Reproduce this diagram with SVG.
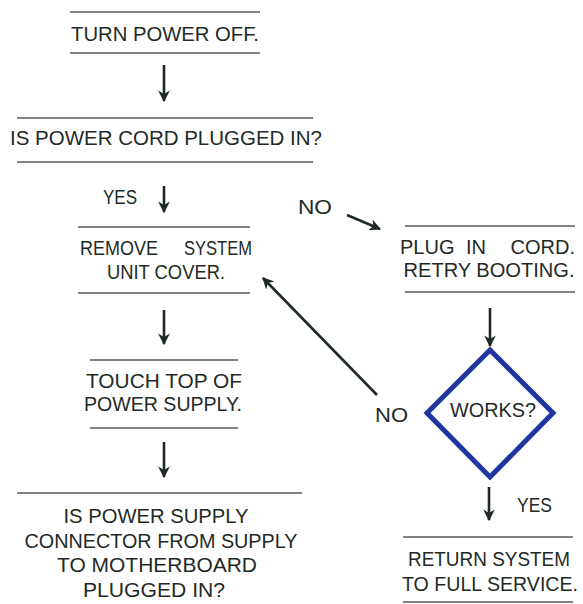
<svg xmlns="http://www.w3.org/2000/svg" width="583" height="604" viewBox="0 0 583 604">
<style>
  text { font-family: "Liberation Sans", "Lato", sans-serif; font-size: 20px; fill: #1f2a26; }
  .c { text-anchor: middle; }
  .rule { stroke: #555b58; stroke-width: 1.6; }
  .arrow { stroke: #1f2a26; stroke-width: 2.6; fill: none; marker-end: url(#ah); }
  .dia { fill: none; stroke: #1f35a0; stroke-width: 5; stroke-linejoin: miter; }
</style>
<defs>
  <marker id="ah" viewBox="0 0 10 10" refX="9" refY="5" markerWidth="4.5" markerHeight="4.5" markerUnits="strokeWidth" orient="auto">
    <path d="M0,0 L10,5 L0,10 L3,5 z" fill="#1f2a26"/>
  </marker>
</defs>
<rect width="583" height="604" fill="#ffffff"/>

<g id="n1">
  <line class="rule" x1="70" y1="12" x2="260" y2="12"/>
  <text class="c" x="165" y="41" textLength="188" lengthAdjust="spacingAndGlyphs">TURN POWER OFF.</text>
  <line class="rule" x1="70" y1="53" x2="260" y2="53"/>
</g>

<g id="n2">
  <line class="rule" x1="17" y1="118" x2="313" y2="118"/>
  <text class="c" x="166" y="145" textLength="312" lengthAdjust="spacingAndGlyphs">IS POWER CORD PLUGGED IN?</text>
  <line class="rule" x1="17" y1="162" x2="313" y2="162"/>
</g>

<g id="n3">
  <line class="rule" x1="78" y1="227" x2="250" y2="227"/>
  <text y="255"><tspan x="80" textLength="78" lengthAdjust="spacingAndGlyphs">REMOVE</tspan><tspan x="184" textLength="68" lengthAdjust="spacingAndGlyphs">SYSTEM</tspan></text>
  <text class="c" x="166" y="279" textLength="118" lengthAdjust="spacingAndGlyphs">UNIT COVER.</text>
  <line class="rule" x1="78" y1="293" x2="250" y2="293"/>
</g>

<g id="n4">
  <line class="rule" x1="405" y1="226" x2="575" y2="226"/>
  <text y="254"><tspan x="400">PLUG</tspan><tspan x="466">IN</tspan><tspan x="575" text-anchor="end">CORD.</tspan></text>
  <text class="c" x="489" y="277" textLength="171" lengthAdjust="spacingAndGlyphs">RETRY BOOTING.</text>
  <line class="rule" x1="405" y1="292" x2="575" y2="292"/>
</g>

<g id="n5">
  <line class="rule" x1="90" y1="360" x2="238" y2="360"/>
  <text class="c" x="164" y="388" textLength="156" lengthAdjust="spacingAndGlyphs">TOUCH TOP OF</text>
  <text class="c" x="163" y="411" textLength="158" lengthAdjust="spacingAndGlyphs">POWER SUPPLY.</text>
  <line class="rule" x1="90" y1="428" x2="238" y2="428"/>
</g>

<g id="n6">
  <polygon class="dia" points="490,350 553,413 490,477 427,413"/>
  <text class="c" x="493" y="417" font-size="18" textLength="86" lengthAdjust="spacingAndGlyphs">WORKS?</text>
</g>

<g id="n7">
  <line class="rule" x1="17" y1="493" x2="302" y2="493"/>
  <text class="c" x="156" y="523" textLength="185" lengthAdjust="spacingAndGlyphs">IS POWER SUPPLY</text>
  <text class="c" x="161" y="548" textLength="273" lengthAdjust="spacingAndGlyphs">CONNECTOR FROM SUPPLY</text>
  <text class="c" x="157" y="572" textLength="200" lengthAdjust="spacingAndGlyphs">TO MOTHERBOARD</text>
  <text class="c" x="154" y="597" textLength="142" lengthAdjust="spacingAndGlyphs">PLUGGED IN?</text>
</g>

<g id="n8">
  <line class="rule" x1="403" y1="537" x2="573" y2="537"/>
  <text class="c" x="489" y="566" textLength="162" lengthAdjust="spacingAndGlyphs">RETURN SYSTEM</text>
  <text class="c" x="490" y="591" textLength="176" lengthAdjust="spacingAndGlyphs">TO FULL SERVICE.</text>
  <line class="rule" x1="403" y1="602" x2="573" y2="602"/>
</g>

<g id="connectors">
  <line class="arrow" x1="164" y1="65" x2="164" y2="101"/>
  <line class="arrow" x1="164" y1="186" x2="164" y2="212"/>
  <text x="103" y="204" textLength="34" lengthAdjust="spacingAndGlyphs">YES</text>
  <line class="arrow" x1="347" y1="215" x2="380" y2="229"/>
  <text x="298" y="214" textLength="34" lengthAdjust="spacingAndGlyphs">NO</text>
  <line class="arrow" x1="164" y1="310" x2="164" y2="344"/>
  <line class="arrow" x1="164" y1="442" x2="164" y2="477"/>
  <line class="arrow" x1="490" y1="308" x2="490" y2="346"/>
  <line class="arrow" x1="377" y1="395" x2="263" y2="278"/>
  <text x="375" y="422" textLength="33" lengthAdjust="spacingAndGlyphs">NO</text>
  <line class="arrow" x1="489" y1="487" x2="489" y2="520"/>
  <text x="517" y="512" textLength="35" lengthAdjust="spacingAndGlyphs">YES</text>
</g>
</svg>
